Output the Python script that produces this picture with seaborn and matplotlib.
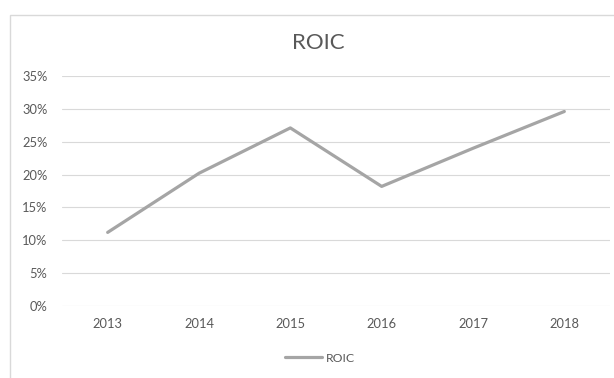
import matplotlib
matplotlib.use("Agg")
import matplotlib.pyplot as plt
import seaborn as sns
import pandas as pd
from matplotlib.ticker import PercentFormatter
from matplotlib.patches import Rectangle

years = ["2013", "2014", "2015", "2016", "2017", "2018"]
roic = [0.112, 0.202, 0.271, 0.182, 0.240, 0.296]
series_name = "ROIC"

df = pd.DataFrame({"Year": years, "ROIC": roic})

sns.set_theme(style="white")
plt.rcParams["font.family"] = ["Lato", "DejaVu Sans"]

fig = plt.figure(figsize=(6.14, 3.78), dpi=100)
ax = fig.add_axes([62/614, 1-306/378, (610-62)/614, (306-76)/378])

sns.lineplot(data=df, x="Year", y="ROIC", ax=ax, color="#A5A5A5", linewidth=2.3,
             label=series_name, sort=False)

ax.set_ylim(0, 0.35)
ax.set_xlim(-0.5, len(years) - 0.5)
ax.set_yticks([i * 0.05 for i in range(8)])
ax.yaxis.set_major_formatter(PercentFormatter(1.0, decimals=0))
ax.grid(axis="y", color="#D9D9D9", linewidth=0.8)
ax.grid(axis="x", visible=False)
for s in ax.spines.values():
    s.set_visible(False)
ax.tick_params(axis="both", length=0, labelsize=9.3, labelcolor="#595959")
ax.tick_params(axis="y", pad=10.5)
ax.tick_params(axis="x", pad=9)
ax.set_xlabel("")
ax.set_ylabel("")

fig.text(318/614, 1-43/378, "ROIC", ha="center", va="center", fontsize=16, color="#595959")

# chart border
fig.patches.append(Rectangle((10/614, -0.05), 1.2, 1-15/378+0.05, transform=fig.transFigure,
                             fill=False, edgecolor="#D9D9D9", linewidth=1.0))

leg = ax.legend(loc="center", bbox_to_anchor=(320/614, 1-358/378), bbox_transform=fig.transFigure,
                frameon=False, fontsize=8.8, handlelength=3.0, handletextpad=0.3, labelcolor="#595959")

fig.savefig("out.png", dpi=100, facecolor="white")
